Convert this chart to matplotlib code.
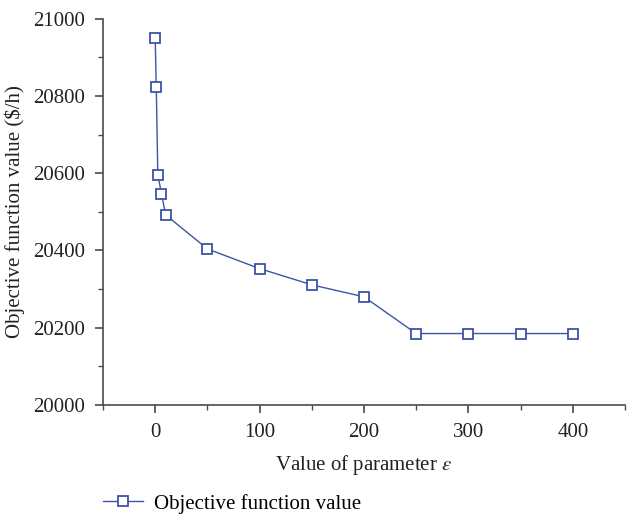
import matplotlib
matplotlib.use("Agg")
import matplotlib.pyplot as plt
from matplotlib.ticker import MultipleLocator

# data
eps = [0, 1, 2.5, 6, 10, 50, 100, 150, 200, 250, 300, 350, 400]
obj = [20949, 20824, 20596, 20547, 20492, 20404, 20353, 20311, 20280,
       20185, 20185, 20185, 20185]

plt.rcParams['font.family'] = ['Liberation Serif', 'DejaVu Serif']
plt.rcParams['mathtext.fontset'] = 'stix'

blue = '#3b54a8'
grey = '#4a4a4a'

fig = plt.figure(figsize=(6.27, 5.18), dpi=100)
ax = fig.add_axes([0.1643, 0.2181, 0.8325, 0.746])

ax.plot(eps, obj, color=blue, lw=1.0, marker='s', markersize=6.5,
        markerfacecolor='white', markeredgecolor=blue, markeredgewidth=1.3,
        label='Objective function value')

ax.set_xlim(-50, 450)
ax.set_ylim(20000, 21000)
ax.xaxis.set_major_locator(MultipleLocator(100))
ax.xaxis.set_minor_locator(MultipleLocator(50))
ax.yaxis.set_major_locator(MultipleLocator(200))
ax.yaxis.set_minor_locator(MultipleLocator(100))

for s in ['top', 'right']:
    ax.spines[s].set_visible(False)
for s in ['left', 'bottom']:
    ax.spines[s].set_color(grey)
    ax.spines[s].set_linewidth(1.2)

ax.tick_params(which='major', direction='out', length=6, width=1.2,
               color=grey, labelsize=15, labelcolor='#222222', pad=7)
ax.tick_params(which='minor', direction='out', length=3.5, width=1.0, color=grey)

ax.set_xlabel(r'Value of parameter $\varepsilon$', fontsize=15,
              color='#222222', labelpad=8)
ax.set_ylabel('Objective function value ($/h)', fontsize=15,
              color='#222222', labelpad=6)

fig.legend(loc='lower left', bbox_to_anchor=(0.135, -0.028), frameon=False,
           fontsize=15, handlelength=1.9, handletextpad=0.55)

fig.savefig('out.png', dpi=100)
